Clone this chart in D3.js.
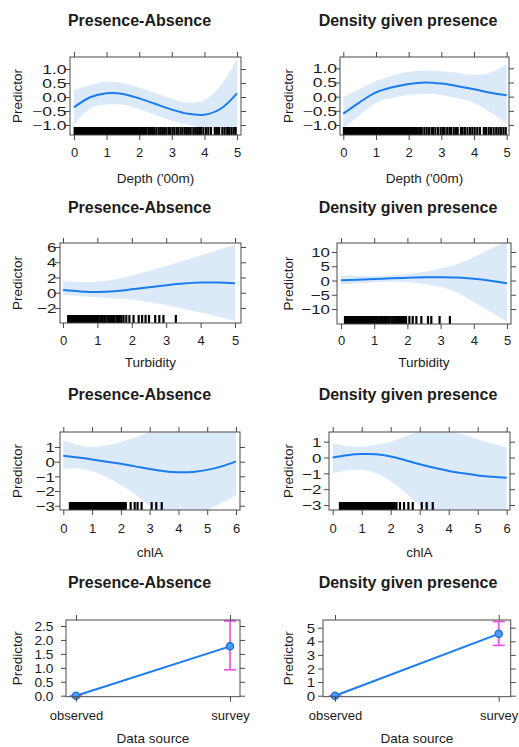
<!DOCTYPE html>
<html>
<head>
<meta charset="utf-8">
<script src="https://cdn.jsdelivr.net/npm/d3@7/dist/d3.min.js"></script>
<style>
  body { margin: 0; background: #fff; }
  svg { display: block; }
  text { font-family: "Liberation Sans", Arial, Helvetica, sans-serif; fill: #1c1c1c; }
</style>
</head>
<body>
<svg id="chart" width="519" height="747"></svg>
<script>
// ---------- Smooth-term effects: grids, fitted values, confidence bands ----------
const depthGrid = [0, 0.5, 1, 1.5, 2, 2.5, 3, 3.5, 4, 4.5, 5];
const paDepthFit = [-0.37, -0.01, 0.13, 0.11, -0.05, -0.25, -0.45, -0.6, -0.63, -0.42, 0.13];
const paDepthHi  = [0.25, 0.42, 0.55, 0.5, 0.34, 0.14, -0.06, -0.2, -0.12, 0.42, 1.35];
const paDepthLo  = [-1.0, -0.4, -0.28, -0.28, -0.44, -0.64, -0.84, -1.0, -1.12, -1.28, -1.2];

const denDepthFit = [-0.6, -0.2, 0.15, 0.33, 0.45, 0.5, 0.46, 0.37, 0.26, 0.14, 0.05];
const denDepthHi  = [-0.02, 0.28, 0.55, 0.75, 0.88, 0.92, 0.9, 0.84, 0.76, 0.85, 1.15];
const denDepthLo  = [-1.15, -0.65, -0.22, -0.04, 0.06, 0.1, 0.06, -0.06, -0.22, -0.55, -0.95];

const turbGrid = [0, 0.5, 1, 1.5, 2, 2.5, 3, 3.5, 4, 4.5, 5];
const paTurbFit = [0.35, 0.18, 0.1, 0.2, 0.45, 0.72, 0.98, 1.2, 1.33, 1.35, 1.25];
const paTurbHi  = [1.5, 1.4, 1.45, 1.75, 2.25, 2.85, 3.5, 4.2, 4.9, 5.6, 6.3];
const paTurbLo  = [-0.3, -0.45, -0.6, -0.75, -0.9, -1.2, -1.6, -2.1, -2.6, -3.1, -3.7];

const denTurbFit = [0.1, 0.3, 0.5, 0.75, 0.95, 1.1, 1.15, 1.05, 0.6, -0.1, -1.0];
const denTurbHi  = [1.8, 1.6, 1.6, 1.8, 2.3, 3.0, 4.2, 5.8, 8.2, 11, 14];
const denTurbLo  = [-1.5, -1.0, -0.6, -0.4, -0.6, -1.2, -2.3, -4.2, -7.5, -11, -14.5];

const chlaGrid = [0, 0.5, 1, 1.5, 2, 2.5, 3, 3.5, 4, 4.5, 5, 5.5, 6];
const paChlaFit = [0.4, 0.28, 0.15, 0.0, -0.14, -0.32, -0.5, -0.65, -0.72, -0.7, -0.56, -0.32, 0.02];
const paChlaHi  = [1.45, 1.15, 1.0, 1.1, 1.35, 1.65, 2.0, 2.1, 2.1, 2.1, 2.1, 2.1, 2.1];
const paChlaLo  = [-0.5, -0.45, -0.65, -1.05, -1.6, -2.2, -3.0, -3.4, -3.5, -3.5, -3.3, -2.8, -2.3];

const denChlaFit = [0.0, 0.15, 0.22, 0.2, 0.06, -0.17, -0.42, -0.65, -0.85, -1.0, -1.13, -1.21, -1.28];
const denChlaHi  = [0.9, 0.72, 0.68, 0.8, 1.0, 1.35, 1.65, 1.75, 1.65, 1.45, 1.15, 0.88, 0.62];
const denChlaLo  = [-1.0, -0.82, -0.78, -1.0, -1.5, -2.2, -3.0, -3.4, -3.5, -3.5, -3.5, -3.45, -3.4];

// ---------- Factor term: data source ----------
const sources = ["observed", "survey"];
const paSourceFit = [0, 1.77];
const paSourceLo  = [0, 0.93];
const paSourceHi  = [0, 2.68];
const denSourceFit = [0, 4.55];
const denSourceLo  = [0, 3.7];
const denSourceHi  = [0, 5.45];

// ---------- Observed covariate values (rugs) ----------
const depthRugCore = [0.02, 0.05, 0.09, 0.12, 0.16, 0.2, 0.23, 0.27, 0.31, 0.35, 0.38, 0.42, 0.46, 0.5,
  0.53, 0.57, 0.61, 0.65, 0.68, 0.72, 0.76, 0.8, 0.83, 0.87, 0.91, 0.95, 0.98, 1.02, 1.06, 1.1, 1.13,
  1.17, 1.21, 1.25, 1.28, 1.32, 1.36, 1.4, 1.43, 1.47, 1.51, 1.55, 1.58, 1.62, 1.66, 1.7, 1.73, 1.77,
  1.81, 1.85, 1.88, 1.92, 1.96, 2.0, 2.03, 2.07, 2.11, 2.15, 2.19, 2.23];
const depthRugPA = depthRugCore.concat([2.3, 2.36, 2.42, 2.47, 2.53, 2.6, 2.66, 2.72, 2.77, 2.83, 2.9,
  2.95, 3.02, 3.08, 3.15, 3.2, 3.27, 3.33, 3.4, 3.46, 3.52, 3.58, 3.66, 3.72, 3.78, 3.84, 3.9, 3.97,
  4.05, 4.12, 4.2, 4.32, 4.38, 4.45, 4.55, 4.62, 4.7, 4.76, 4.83, 4.9, 4.96]);
const depthRugDen = depthRugCore.concat([2.28, 2.35, 2.4, 2.48, 2.55, 2.62, 2.7, 2.75, 2.82, 2.9, 2.98,
  3.05, 3.1, 3.18, 3.25, 3.3, 3.38, 3.45, 3.5, 3.6, 3.65, 3.72, 3.8, 3.88, 3.95, 4.02, 4.1, 4.18, 4.3,
  4.37, 4.45, 4.52, 4.6, 4.68, 4.75, 4.82, 4.9, 4.97]);

const turbRugPA = [0.15, 0.19, 0.23, 0.27, 0.3, 0.34, 0.38, 0.42, 0.46, 0.5, 0.53, 0.57, 0.61, 0.65,
  0.69, 0.73, 0.76, 0.8, 0.84, 0.88, 0.92, 0.96, 1.0, 1.04, 1.1, 1.15, 1.2, 1.24, 1.3, 1.35, 1.4,
  1.45, 1.5, 1.56, 1.6, 1.65, 1.7, 1.76, 1.84, 1.93, 2.05, 2.2, 2.3, 2.4, 2.5, 2.68, 2.8, 2.92, 3.28];
const turbRugDen = [0.12, 0.16, 0.2, 0.24, 0.28, 0.32, 0.36, 0.4, 0.44, 0.48, 0.52, 0.56, 0.6, 0.64,
  0.68, 0.72, 0.76, 0.8, 0.84, 0.88, 0.92, 0.96, 1.0, 1.04, 1.08, 1.12, 1.18, 1.22, 1.26, 1.32, 1.36,
  1.42, 1.46, 1.52, 1.56, 1.62, 1.66, 1.72, 1.78, 1.84, 1.9, 1.96, 2.06, 2.16, 2.27, 2.42, 2.62, 2.72,
  2.97, 3.28];

const chlaRugPA = [0.23, 0.27, 0.3, 0.34, 0.37, 0.41, 0.44, 0.48, 0.51, 0.55, 0.58, 0.62, 0.65, 0.69,
  0.72, 0.76, 0.79, 0.83, 0.86, 0.9, 0.93, 0.97, 1.0, 1.04, 1.07, 1.11, 1.14, 1.18, 1.22, 1.26, 1.3,
  1.34, 1.38, 1.42, 1.46, 1.5, 1.55, 1.6, 1.64, 1.68, 1.73, 1.78, 1.83, 1.88, 1.92, 1.97, 2.02, 2.07,
  2.12, 2.17, 2.34, 2.48, 2.58, 2.72, 3.07, 3.23, 3.42];
const chlaRugDen = [0.25, 0.29, 0.32, 0.36, 0.39, 0.43, 0.46, 0.5, 0.53, 0.57, 0.6, 0.64, 0.67, 0.71,
  0.74, 0.78, 0.81, 0.85, 0.88, 0.92, 0.95, 0.99, 1.02, 1.06, 1.1, 1.14, 1.18, 1.22, 1.26, 1.3, 1.35,
  1.4, 1.44, 1.48, 1.53, 1.58, 1.62, 1.67, 1.72, 1.77, 1.82, 1.87, 1.92, 1.97, 2.02, 2.08, 2.14, 2.2,
  2.32, 2.46, 2.61, 2.76, 3.07, 3.24, 3.45];

// ---------- Tick values ----------
const depthTicks = [0, 1, 2, 3, 4, 5];
const turbTicks = [0, 1, 2, 3, 4, 5];
const chlaTicks = [0, 1, 2, 3, 4, 5, 6];
const depthYTicks = [-1, -0.5, 0, 0.5, 1];
const paTurbYTicks = [-2, 0, 2, 4, 6];
const denTurbYTicks = [-10, -5, 0, 5, 10];
const chlaYTicks = [-3, -2, -1, 0, 1];
const paSourceYTicks = [0, 0.5, 1, 1.5, 2, 2.5];
const denSourceYTicks = [0, 1, 2, 3, 4, 5];

// ---------- Styling ----------
const LINE = "#1a7cf0";
const BAND = "#3f86d8";
const ERR = "#ee4aee";
const FRAME = "#4a4a4a";

const svg = d3.select("#chart");

// Panel layout: frame box, where two reference values land on each axis, text placement
const panels = [
  { title: "Presence-Absence", xlab: "Depth ('00m)", left: 70, right: 241, top: 57, bottom: 135,
    xv: [0, 5], xp: [74, 237], yv: [-1, 1], yp: [125, 69], xTicks: depthTicks, yTicks: depthYTicks, yFmt: d3.format(".1f"),
    grid: depthGrid, fit: paDepthFit, lo: paDepthLo, hi: paDepthHi, rug: depthRugPA,
    titleX: 139.5, titleY: 26, tickY: 157, xlabY: 183, ylabX: 22, labRight: 66.5, yFont: 12.5, stretch: 1.4 },
  { title: "Density given presence", xlab: "Depth ('00m)", left: 340, right: 509, top: 57, bottom: 135,
    xv: [0, 5], xp: [343.3, 506.7], yv: [-1, 1], yp: [125, 68.3], xTicks: depthTicks, yTicks: depthYTicks, yFmt: d3.format(".1f"),
    grid: depthGrid, fit: denDepthFit, lo: denDepthLo, hi: denDepthHi, rug: depthRugDen,
    titleX: 408, titleY: 26, tickY: 157, xlabY: 183, ylabX: 293, labRight: 337, yFont: 12.5, stretch: 1.4 },
  { title: "Presence-Absence", xlab: "Turbidity", left: 60, right: 241, top: 243, bottom: 323,
    xv: [0, 5], xp: [63, 235], yv: [-2, 6], yp: [308, 247], xTicks: turbTicks, yTicks: paTurbYTicks, yFmt: d3.format("d"),
    grid: turbGrid, fit: paTurbFit, lo: paTurbLo, hi: paTurbHi, rug: turbRugPA,
    titleX: 139.5, titleY: 213, tickY: 345, xlabY: 367, ylabX: 22, labRight: 56.5, yFont: 13, stretch: 1.3 },
  { title: "Density given presence", xlab: "Turbidity", left: 337, right: 511, top: 243, bottom: 324,
    xv: [0, 5], xp: [341, 507], yv: [-10, 10], yp: [309, 252], xTicks: turbTicks, yTicks: denTurbYTicks, yFmt: d3.format("d"),
    grid: turbGrid, fit: denTurbFit, lo: denTurbLo, hi: denTurbHi, rug: turbRugDen,
    titleX: 408, titleY: 213, tickY: 345, xlabY: 367, ylabX: 293, labRight: 330, yFont: 13, stretch: 1.3 },
  { title: "Presence-Absence", xlab: "chlA", left: 60, right: 240, top: 432, bottom: 510,
    xv: [0, 6], xp: [63.3, 236], yv: [-3, 1], yp: [505.7, 447], xTicks: chlaTicks, yTicks: chlaYTicks, yFmt: d3.format("d"),
    grid: chlaGrid, fit: paChlaFit, lo: paChlaLo, hi: paChlaHi, rug: chlaRugPA,
    titleX: 139.5, titleY: 400, tickY: 533, xlabY: 557, ylabX: 22, labRight: 55, yFont: 13, stretch: 1.3 },
  { title: "Density given presence", xlab: "chlA", left: 329, right: 510, top: 432, bottom: 510,
    xv: [0, 6], xp: [332.7, 506.7], yv: [-3, 1], yp: [505, 441.7], xTicks: chlaTicks, yTicks: chlaYTicks, yFmt: d3.format("d"),
    grid: chlaGrid, fit: denChlaFit, lo: denChlaLo, hi: denChlaHi, rug: chlaRugDen,
    titleX: 408, titleY: 400, tickY: 533, xlabY: 557, ylabX: 293, labRight: 321.5, yFont: 13, stretch: 1.3 },
  { title: "Presence-Absence", xlab: "Data source", left: 66, right: 240, top: 620, bottom: 696.7,
    cats: sources, xp: [76, 230], yv: [0, 2.5], yp: [695.7, 626], yTicks: paSourceYTicks, yFmt: d3.format(".1f"),
    fit: paSourceFit, lo: paSourceLo, hi: paSourceHi,
    titleX: 139.5, titleY: 588, tickY: 720, xlabY: 743, ylabX: 22, labRight: 53.5, yFont: 12.5, stretch: 1.1 },
  { title: "Density given presence", xlab: "Data source", left: 323, right: 510.7, top: 620, bottom: 696.7,
    cats: sources, xp: [335, 498.7], yv: [0, 5], yp: [695.7, 627.7], yTicks: denSourceYTicks, yFmt: d3.format("d"),
    fit: denSourceFit, lo: denSourceLo, hi: denSourceHi,
    titleX: 408, titleY: 588, tickY: 720, xlabY: 743, ylabX: 293, labRight: 315, yFont: 12.5, stretch: 1.2 }
];

const smooth = d3.curveCatmullRom.alpha(0.5);

panels.forEach((p, i) => {
  const g = svg.append("g");
  const w = p.right - p.left, h = p.bottom - p.top;
  const x = p.cats
    ? d3.scalePoint().domain(p.cats).range(p.xp)
    : d3.scaleLinear().domain(p.xv).range(p.xp);
  const y = d3.scaleLinear().domain(p.yv).range(p.yp);

  const clipId = "clip" + i;
  g.append("clipPath").attr("id", clipId)
    .append("rect").attr("x", p.left).attr("y", p.top).attr("width", w).attr("height", h);
  const plot = g.append("g").attr("clip-path", `url(#${clipId})`);

  if (!p.cats) {
    const rows = p.grid.map((v, k) => ({ x: v, fit: p.fit[k], lo: p.lo[k], hi: p.hi[k] }));
    // confidence band
    plot.append("path").datum(rows)
      .attr("d", d3.area().x(d => x(d.x)).y0(d => y(d.lo)).y1(d => y(d.hi)).curve(smooth))
      .attr("fill", BAND).attr("fill-opacity", 0.18);
    // fitted smooth
    plot.append("path").datum(rows)
      .attr("d", d3.line().x(d => x(d.x)).y(d => y(d.fit)).curve(smooth))
      .attr("fill", "none").attr("stroke", LINE).attr("stroke-width", 2);
    // rug of observed covariate values
    plot.append("g").selectAll("line").data(p.rug).join("line")
      .attr("x1", d => x(d)).attr("x2", d => x(d))
      .attr("y1", p.bottom).attr("y2", p.bottom - 8)
      .attr("stroke", "#000").attr("stroke-width", 2.2);
  } else {
    const rows = p.cats.map((c, k) => ({ c, fit: p.fit[k], lo: p.lo[k], hi: p.hi[k] }));
    plot.append("path").datum(rows)
      .attr("d", d3.line().x(d => x(d.c)).y(d => y(d.fit)))
      .attr("fill", "none").attr("stroke", LINE).attr("stroke-width", 2);
    const eb = g.append("g").attr("stroke", ERR).attr("stroke-width", 1.6);
    rows.forEach(d => {
      eb.append("line").attr("x1", x(d.c)).attr("x2", x(d.c)).attr("y1", y(d.lo)).attr("y2", y(d.hi));
      eb.append("line").attr("x1", x(d.c) - 6).attr("x2", x(d.c) + 6).attr("y1", y(d.lo)).attr("y2", y(d.lo));
      eb.append("line").attr("x1", x(d.c) - 6).attr("x2", x(d.c) + 6).attr("y1", y(d.hi)).attr("y2", y(d.hi));
    });
    g.append("g").selectAll("circle").data(rows).join("circle")
      .attr("cx", d => x(d.c)).attr("cy", d => y(d.fit)).attr("r", 3.6)
      .attr("fill", "#4a9cf5").attr("stroke", "#1a6fd8").attr("stroke-width", 1.3);
  }

  // frame
  g.append("rect").attr("x", p.left).attr("y", p.top).attr("width", w).attr("height", h)
    .attr("fill", "none").attr("stroke", FRAME).attr("stroke-width", 1);

  const xTickVals = p.cats ? p.cats : p.xTicks;
  // bottom axis with labels
  const bAx = g.append("g").attr("transform", `translate(0,${p.bottom})`).attr("color", FRAME)
    .call(d3.axisBottom(x).tickValues(xTickVals).tickSize(5).tickSizeOuter(0).tickFormat(d => p.cats ? d : d3.format("d")(d)));
  bAx.select(".domain").remove();
  bAx.selectAll("text").attr("y", p.tickY - p.bottom).attr("dy", null)
    .style("font-size", "13px");
  // top axis, ticks only
  const tAx = g.append("g").attr("transform", `translate(0,${p.top})`).attr("color", FRAME)
    .call(d3.axisTop(x).tickValues(xTickVals).tickSize(5).tickSizeOuter(0).tickFormat(""));
  tAx.select(".domain").remove();
  // left axis with labels
  const lAx = g.append("g").attr("transform", `translate(${p.left},0)`).attr("color", FRAME)
    .call(d3.axisLeft(y).tickValues(p.yTicks).tickSize(5).tickSizeOuter(0).tickFormat(p.yFmt));
  lAx.select(".domain").remove();
  lAx.selectAll("text")
    .attr("x", (p.labRight - p.left) / p.stretch)
    .attr("transform", `scale(${p.stretch},1)`)
    .attr("dy", "0.36em")
    .style("font-size", p.yFont + "px");
  // right axis, ticks only
  const rAx = g.append("g").attr("transform", `translate(${p.right},0)`).attr("color", FRAME)
    .call(d3.axisRight(y).tickValues(p.yTicks).tickSize(5).tickSizeOuter(0).tickFormat(""));
  rAx.select(".domain").remove();

  // titles and axis labels
  g.append("text").attr("x", p.titleX).attr("y", p.titleY).attr("text-anchor", "middle")
    .style("font-size", "16px").style("font-weight", "bold").text(p.title);
  g.append("text").attr("x", (p.left + p.right) / 2).attr("y", p.xlabY).attr("text-anchor", "middle")
    .style("font-size", "13.5px").text(p.xlab);
  g.append("text").attr("transform", `translate(${p.ylabX},${(p.top + p.bottom) / 2}) rotate(-90)`)
    .attr("text-anchor", "middle").style("font-size", "13.5px").text("Predictor");
});
</script>
</body>
</html>
